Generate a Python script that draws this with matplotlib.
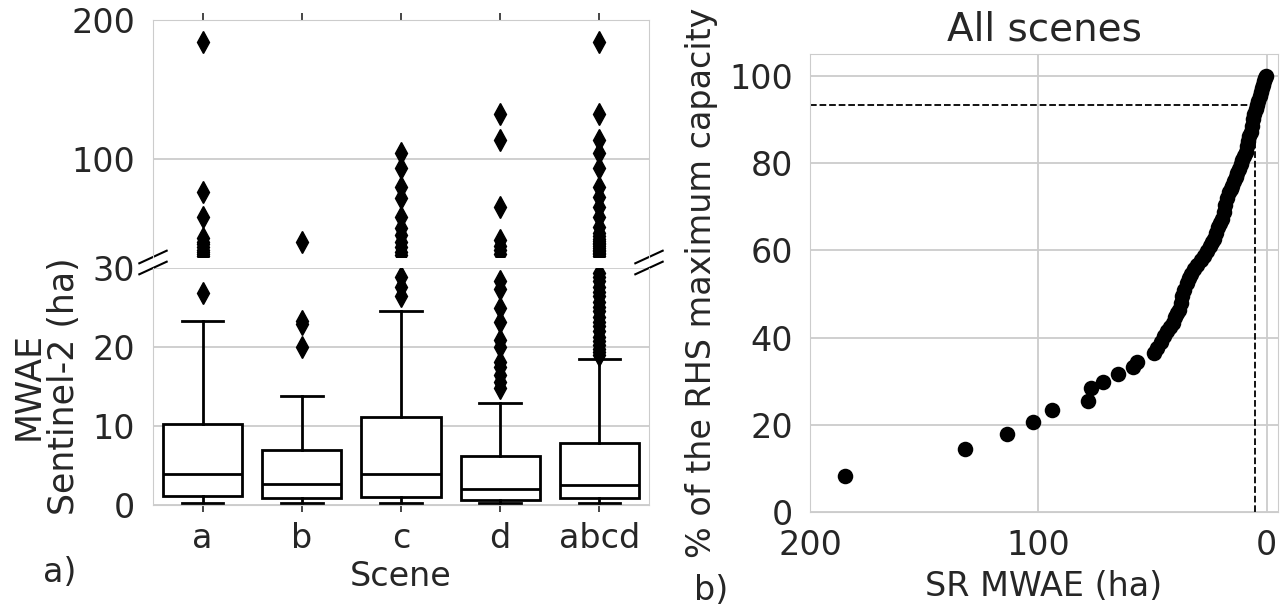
import numpy as np
import matplotlib
matplotlib.use("Agg")
import matplotlib.pyplot as plt

plt.rcParams['font.family'] = ['DejaVu Sans']
plt.rcParams['text.color'] = '.15'
plt.rcParams['axes.labelcolor'] = '.15'
plt.rcParams['xtick.color'] = '.15'
plt.rcParams['ytick.color'] = '.15'
plt.rcParams['axes.edgecolor'] = '.8'
plt.rcParams['grid.color'] = '.8'
plt.rcParams['grid.linewidth'] = 1.3

# ---- panel a) : box stats per scene (ha) ----
scenes = ["a", "b", "c", "d", "abcd"]
whislo = [0.25, 0.25, 0.25, 0.25, 0.25]
q1 = [1.2, 0.85, 0.97, 0.63, 0.85]
med = [3.9, 2.7, 3.9, 2.0, 2.5]
q3 = [10.3, 7.0, 11.1, 6.2, 7.9]
whishi = [23.3, 13.8, 24.5, 12.9, 18.5]

fliers_a = [26.8, 31.0, 32.0, 33.5, 35.0, 37.0, 39.0, 41.0, 43.6, 58.7, 76.6, 184.2]
fliers_b = [20.0, 22.9, 23.3, 40.5]
fliers_c = [26.5, 27.6, 28.8, 31.5, 33.8, 37.4, 41.0, 45.8, 50.6, 58.9, 72.1, 80.0,
            94.1, 104.4]
fliers_d = [14.8, 15.6, 16.5, 17.5, 18.1, 20.0, 20.9, 23.2, 24.9, 27.4, 28.3,
            32.0, 35.0, 38.0, 42.2, 66.1, 113.9, 132.6]
fliers_abcd = [19.0, 19.4, 19.8, 20.3, 20.8, 21.3, 22.0, 22.6, 23.2, 23.8, 24.5,
               25.1, 25.7, 26.4, 27.0, 27.6, 28.3, 28.8, 29.4,
               31.0, 32.0, 33.0, 34.0, 35.2, 36.5, 37.8, 39.0, 40.2, 41.5, 43.0,
               45.0, 47.2, 51.7, 58.9, 66.1, 73.3, 80.0, 93.6, 104.4, 113.9,
               132.6, 184.2]
fliers = [fliers_a, fliers_b, fliers_c, fliers_d, fliers_abcd]
y_break = 30

# ---- panel b) : cumulative share of RHS capacity vs SR MWAE ----
sr_mwae = [184.6, 132.3, 113.5, 102.4, 94.1, 78.3, 76.7, 71.6, 65.0, 58.5, 56.8,
           49.2, 47.8, 46.3, 44.8, 43.6, 42.4, 41.2, 40.2, 39.2, 38.3, 37.6, 37.0,
           36.1, 35.0, 34.1, 33.2, 31.8, 30.3, 28.9, 27.4, 26.2, 25.0, 23.9, 23.0,
           22.1, 21.2, 20.3, 19.4, 18.7, 18.1, 17.3, 16.5, 15.7, 15.0, 14.2, 13.5,
           12.8, 12.1, 11.4, 10.7, 9.9, 9.2, 8.6, 8.0, 7.5, 7.0, 6.4, 5.9, 5.3,
           4.8, 4.2, 3.7, 3.1, 2.6, 2.1, 1.6, 1.1, 0.6, 0.2]
pct_capacity = [8.3, 14.4, 17.8, 20.6, 23.4, 25.5, 28.4, 29.9, 31.7, 33.3, 34.5,
                36.5, 37.6, 38.9, 40.3, 41.5, 42.5, 43.4, 44.6, 45.6, 46.4, 47.9, 49.5,
                51.0, 52.5, 53.6, 54.5, 55.6, 56.7, 57.7, 58.7, 59.9, 60.9, 61.8, 62.5,
                64.0, 65.3, 66.3, 67.1, 68.8, 70.4, 71.9, 73.3, 74.1, 74.8, 75.8, 76.8,
                77.7, 78.6, 79.8, 80.8, 81.7, 82.5, 83.8, 85.0, 86.1, 87.1, 88.6, 90.0,
                91.3, 92.4, 93.4, 94.3, 95.3, 96.2, 97.1, 98.0, 98.8, 99.5, 100.0]
thr_x = 5.1
thr_y = 93.2

W, H = 1287, 607
fig = plt.figure(figsize=(W / 100, H / 100), dpi=100)

ax_top = fig.add_axes([153 / W, 1 - 257 / H, 496 / W, 237 / H])
ax_bot = fig.add_axes([153 / W, 1 - 505 / H, 496 / W, 237 / H])
ax_r = fig.add_axes([810 / W, 1 - 512 / H, 468 / W, 458 / H])

lw = 2
for ax, upper in ((ax_top, True), (ax_bot, False)):
    stats = []
    for i in range(len(scenes)):
        if upper:
            fl = [v for v in fliers[i] if v >= y_break]
        else:
            fl = [v for v in fliers[i] if v < y_break]
        stats.append(dict(med=med[i], q1=q1[i], q3=q3[i], whislo=whislo[i],
                          whishi=whishi[i], fliers=fl, label=scenes[i]))
    ax.bxp(stats, positions=range(len(scenes)), widths=0.8, capwidths=0.42,
           patch_artist=True, manage_ticks=False,
           boxprops=dict(facecolor='white', edgecolor='black', linewidth=lw),
           medianprops=dict(color='black', linewidth=lw),
           whiskerprops=dict(color='black', linewidth=lw),
           capprops=dict(color='black', linewidth=lw),
           flierprops=dict(marker='d', markerfacecolor='black',
                           markeredgecolor='black', markersize=11))
    ax.set_xlim(-0.5, len(scenes) - 0.5)
    ax.set_xticks(range(len(scenes)))
    ax.grid(axis='y')
    ax.set_axisbelow(True)
    ax.tick_params(axis='y', length=0, pad=13, labelsize=24)
    ax.tick_params(axis='x', length=5, width=1.2, color='.15', pad=7, labelsize=24)

ax_top.set_ylim(y_break, 200)
ax_top.set_yticks([100, 200])
ax_top.spines['bottom'].set_visible(False)
ax_top.tick_params(axis='x', top=True, bottom=False, labeltop=False, labelbottom=False)

ax_bot.set_ylim(0, y_break)
ax_bot.set_yticks([0, 10, 20, 30])
ax_bot.spines['top'].set_visible(False)
ax_bot.tick_params(axis='x', top=False, bottom=True, labeltop=False, labelbottom=True)
ax_bot.set_xticklabels(scenes)
ax_bot.set_xlabel("Scene", fontsize=24, labelpad=4)
ax_bot.set_ylabel("MWAE\nSentinel-2 (ha)", fontsize=25, labelpad=8, linespacing=1.05)

# break marks
dx, dy = 0.0276, 0.0266
kw = dict(transform=ax_top.transAxes, color='k', clip_on=False, lw=1.5)
ax_top.plot((-dx, dx), (-dy, dy), **kw)
ax_top.plot((1 - dx, 1 + dx), (-dy, dy), **kw)
kw.update(transform=ax_bot.transAxes)
ax_bot.plot((-dx, dx), (1 - dy, 1 + dy), **kw)
ax_bot.plot((1 - dx, 1 + dx), (1 - dy, 1 + dy), **kw)

# right panel
ax_r.scatter(sr_mwae, pct_capacity, s=125, color='black', linewidths=0, zorder=3)
ax_r.hlines(thr_y, 200, thr_x, colors='black', linestyles='--', lw=1.3, zorder=2)
ax_r.vlines(thr_x, 0, thr_y, colors='black', linestyles='--', lw=1.3, zorder=2)
ax_r.set_xlim(200, -5)
ax_r.set_ylim(0, 105)
ax_r.set_xticks([200, 100, 0])
ax_r.set_yticks([0, 20, 40, 60, 80, 100])
ax_r.grid(True)
ax_r.set_axisbelow(True)
ax_r.tick_params(length=0, pad=12, labelsize=24)
ax_r.set_xlabel("SR MWAE (ha)", fontsize=24, labelpad=6)
ax_r.set_ylabel("% of the RHS maximum capacity", fontsize=24, labelpad=8)
ax_r.set_title("All scenes", fontsize=28, pad=10)

fig.text(43 / W, 1 - 573 / H, "a)", fontsize=24, ha='left', va='center')
fig.text(694 / W, 1 - 591 / H, "b)", fontsize=24, ha='left', va='center')

fig.savefig("out.png", dpi=100)
